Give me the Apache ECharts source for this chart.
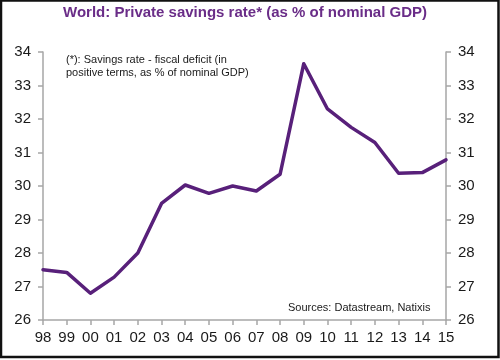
<!DOCTYPE html>
<html>
<head>
<meta charset="utf-8">
<script src="https://cdn.jsdelivr.net/npm/echarts@6/dist/echarts.min.js"></script>
<style>
html,body{margin:0;padding:0;background:#fff;}
#chart{width:500px;height:360px;}
</style>
</head>
<body>
<div id="chart"></div>
<script>
var years = ['98','99','00','01','02','03','04','05','06','07','08','09','10','11','12','13','14','15'];
var savingsRate = [27.5, 27.42, 26.8, 27.28, 28.0, 29.48, 30.03, 29.78, 30.0, 29.85, 30.35, 33.65, 32.3, 31.75, 31.3, 30.38, 30.4, 30.78];
var yTicks = [26, 27, 28, 29, 30, 31, 32, 33, 34];

var chart = echarts.init(document.getElementById('chart'), null, {renderer: 'canvas'});
var axisCommon = {
  type: 'value', min: yTicks[0], max: yTicks[yTicks.length - 1], interval: 1,
  axisLine: {show: true, lineStyle: {color: '#a6a6a6', width: 1.5}},
  axisTick: {show: true, inside: false, length: 5, lineStyle: {color: '#a6a6a6', width: 1.5}},
  splitLine: {show: false},
  axisLabel: {color: '#1a1a1a', fontSize: 15, fontFamily: 'Liberation Sans, Arial, sans-serif', margin: 12}
};
chart.setOption({
  animation: false,
  backgroundColor: '#fff',
  title: {
    text: 'World: Private savings rate* (as % of nominal GDP)',
    left: 63, top: 5, padding: 0,
    textStyle: {color: '#6a2d88', fontSize: 15, fontWeight: 'bold', fontFamily: 'Liberation Sans, Arial, sans-serif'}
  },
  grid: {left: 43, right: 54, top: 52, bottom: 40, containLabel: false},
  xAxis: {
    type: 'category', data: years, boundaryGap: false,
    axisLine: {show: true, lineStyle: {color: '#a6a6a6', width: 1.5}},
    axisTick: {show: true, alignWithLabel: true, length: 5, interval: 0, lineStyle: {color: '#a6a6a6', width: 1.5}},
    axisLabel: {color: '#1a1a1a', fontSize: 15, interval: 0, margin: 10, fontFamily: 'Liberation Sans, Arial, sans-serif'}
  },
  yAxis: [
    Object.assign({}, axisCommon, {position: 'left'}),
    Object.assign({}, axisCommon, {position: 'right'})
  ],
  series: [{
    type: 'line', data: savingsRate, yAxisIndex: 0,
    showSymbol: false, symbol: 'none',
    lineStyle: {color: '#58207a', width: 3.5, join: 'round', cap: 'round'}
  }],
  graphic: [
    {type: 'rect', shape: {x: 1, y: 0.5, width: 497.5, height: 356.5}, style: {fill: 'none', stroke: '#111', lineWidth: 2.5}, silent: true},
    {type: 'text', left: 66, top: 53, style: {text: '(*): Savings rate - fiscal deficit (in\npositive terms, as % of nominal GDP)', fill: '#1a1a1a', fontSize: 11, lineHeight: 13, fontFamily: 'Liberation Sans, Arial, sans-serif'}},
    {type: 'text', left: 288, top: 302, style: {text: 'Sources: Datastream, Natixis', fill: '#1a1a1a', fontSize: 11, fontFamily: 'Liberation Sans, Arial, sans-serif'}}
  ]
});
</script>
</body>
</html>
